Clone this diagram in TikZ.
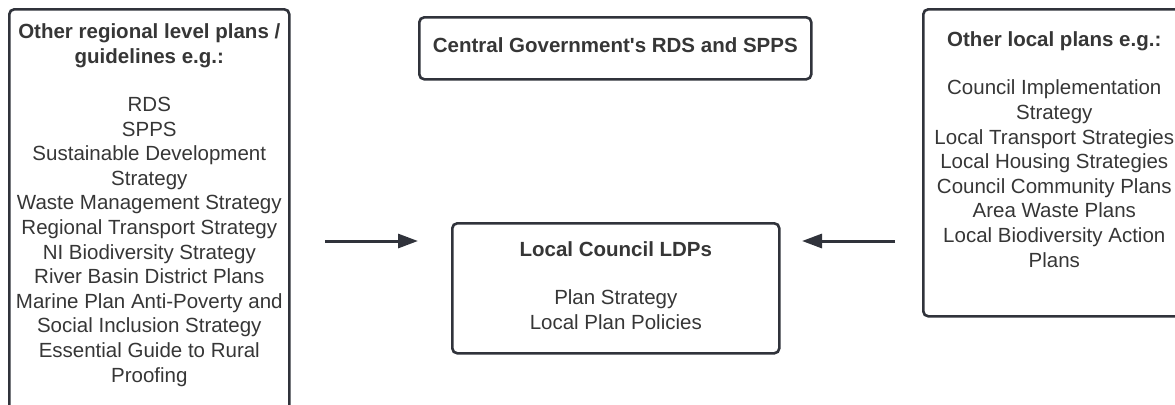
\documentclass[tikz,border=0pt]{standalone}
\usepackage{fontspec}
\setmainfont{Liberation Sans}
\usepackage{tikz}
\usetikzlibrary{positioning, arrows.meta}

\definecolor{bordo}{HTML}{30333B}
\definecolor{scritta}{HTML}{363636}

\begin{document}
\begin{tikzpicture}[x=0.5pt, y=-0.5pt,
    riquadro/.style={draw=bordo, line width=1.3pt, rounded corners=2.5pt, inner sep=0pt, anchor=north west},
    elenco/.style={text=scritta, font=\fontsize{10.25pt}{12.3pt}\selectfont, align=center, inner sep=0pt, anchor=base},
    freccia/.style={draw=bordo, line width=1.5pt, -{Triangle[length=10pt, width=7pt]}}]

    \clip (0,0) rectangle (1175,404);

    % riquadri
    \node[riquadro, minimum width=140pt, minimum height=220pt] (regional) at (8,8) {};
    \node[riquadro, minimum width=196pt, minimum height=31pt] (central) at (418,16) {};
    \node[riquadro, minimum width=163.5pt, minimum height=65pt] (ldp) at (451,222) {};
    \node[riquadro, minimum width=131pt, minimum height=153.5pt] (local) at (922,8) {};

    % testi (base = ultima riga)
    \node[elenco] (regionaltxt) at ([yshift=-187pt]regional.north) {\textbf{Other regional level plans /}\\ \textbf{guidelines e.g.:}\\[11.7pt]
        RDS\\ SPPS\\ Sustainable Development\\ Strategy\\ Waste Management Strategy\\ Regional Transport Strategy\\
        NI Biodiversity Strategy\\ River Basin District Plans\\ Marine Plan Anti-Poverty and\\ Social Inclusion Strategy\\
        Essential Guide to Rural\\ Proofing};
    \node[elenco] (centraltxt) at ([yshift=-18pt]central.north) {\textbf{Central Government\textquotesingle s RDS and SPPS}};
    \node[elenco] (ldptxt) at ([yshift=-53.5pt]ldp.north) {\textbf{Local Council LDPs}\\[11.7pt] Plan Strategy\\ Local Plan Policies};
    \node[elenco] (localtxt) at ([yshift=-129.5pt]local.north) {\textbf{Other local plans e.g.:}\\[11.7pt]
        Council Implementation\\ Strategy\\ Local Transport Strategies\\ Local Housing Strategies\\
        Council Community Plans\\ Area Waste Plans\\ Local Biodiversity Action\\ Plans};

    % frecce
    \coordinate (dasx) at (325,241);
    \coordinate (asx) at (418,241);
    \coordinate (dadx) at (895,241);
    \coordinate (adx) at (802,241);
    \draw[freccia] (dasx) -- (asx);
    \draw[freccia] (dadx) -- (adx);

\end{tikzpicture}
\end{document}
